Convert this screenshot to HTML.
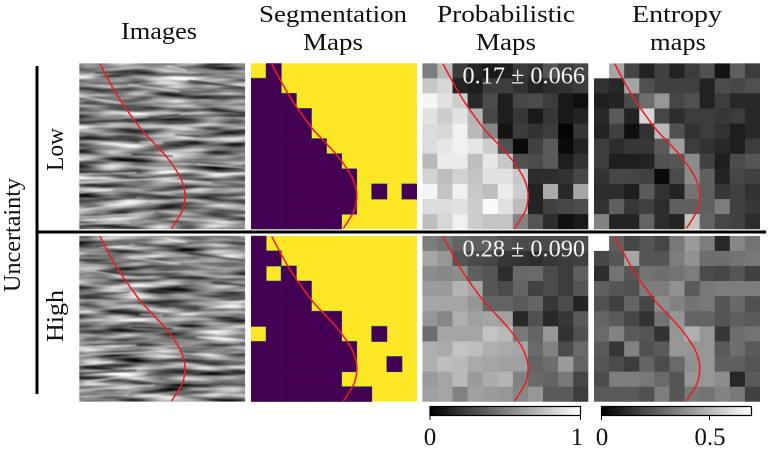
<!DOCTYPE html>
<html lang="en">
<head>
<meta charset="utf-8">
<title>Uncertainty maps</title>
<style>
html,body{margin:0;padding:0;background:#fff;}
svg{display:block;}
text{font-family:"Liberation Serif",serif;fill:#111;}
</style>
</head>
<body>
<svg id="fig" xmlns="http://www.w3.org/2000/svg" width="770" height="449" viewBox="0 0 770 449">
<defs>
<filter id="seis" x="0" y="0" width="100%" height="100%" color-interpolation-filters="sRGB">
<feTurbulence type="fractalNoise" baseFrequency="0.02 0.17" numOctaves="2" seed="7"/>
<feColorMatrix type="matrix" values="1.5 0 0 0 -0.24  1.5 0 0 0 -0.24  1.5 0 0 0 -0.24  0 0 0 0 1"/>
<feGaussianBlur stdDeviation="0.5 0.4"/>
</filter>
<filter id="soft" x="-5%" y="-50%" width="110%" height="200%">
<feGaussianBlur stdDeviation="1.2 0.7"/>
</filter>
<linearGradient id="grayramp"><stop offset="0" stop-color="#000"/><stop offset="1" stop-color="#fff"/></linearGradient>
</defs>

<g>
<text x="121" y="39" font-size="24" textLength="76" lengthAdjust="spacingAndGlyphs">Images</text>
<text x="259" y="22" font-size="24" textLength="148" lengthAdjust="spacingAndGlyphs">Segmentation</text>
<text x="303" y="50" font-size="24" textLength="60" lengthAdjust="spacingAndGlyphs">Maps</text>
<text x="437" y="22" font-size="24" textLength="138" lengthAdjust="spacingAndGlyphs">Probabilistic</text>
<text x="476" y="50" font-size="24" textLength="60" lengthAdjust="spacingAndGlyphs">Maps</text>
<text x="632" y="22" font-size="24" textLength="90" lengthAdjust="spacingAndGlyphs">Entropy</text>
<text x="650" y="50" font-size="24" textLength="56" lengthAdjust="spacingAndGlyphs">maps</text>
</g>

<g id="panels"></g>

<text transform="translate(20,292) rotate(-90)" font-size="24" textLength="114" lengthAdjust="spacingAndGlyphs">Uncertainty</text>
<text transform="translate(63,171) rotate(-90)" font-size="24" textLength="43" lengthAdjust="spacingAndGlyphs">Low</text>
<text transform="translate(63,342) rotate(-90)" font-size="24" textLength="52" lengthAdjust="spacingAndGlyphs">High</text>
<rect x="35.5" y="66" width="3" height="328" fill="#000"/>
<rect x="37" y="230.5" width="729" height="3" fill="#000"/>

<text x="462.5" y="83.5" font-size="24" textLength="122.5" lengthAdjust="spacingAndGlyphs" style="fill:#f4f4f4">0.17 ± 0.066</text>
<text x="462.5" y="256.5" font-size="24" textLength="122.5" lengthAdjust="spacingAndGlyphs" style="fill:#f4f4f4">0.28 ± 0.090</text>

<g>
<rect x="430" y="406.5" width="150.5" height="9" fill="url(#grayramp)" stroke="#000" stroke-width="1.2"/>
<line x1="430" x2="430" y1="415" y2="420" stroke="#000"/>
<line x1="580.5" x2="580.5" y1="415" y2="420" stroke="#000"/>
<text x="430" y="445" font-size="25" text-anchor="middle">0</text>
<text x="577" y="445" font-size="25" text-anchor="middle">1</text>
</g>
<g>
<rect x="601.5" y="406.5" width="150" height="9" fill="url(#grayramp)" stroke="#000" stroke-width="1.2"/>
<line x1="601.5" x2="601.5" y1="415" y2="420" stroke="#000"/>
<line x1="709.5" x2="709.5" y1="415" y2="420" stroke="#000"/>
<text x="602" y="445" font-size="25" text-anchor="middle">0</text>
<text x="710" y="445" font-size="25" text-anchor="middle" textLength="31" lengthAdjust="spacingAndGlyphs">0.5</text>
</g>
</svg>

<script>
// Segmentation class per cell (0 = purple, 1 = yellow)
var segLow = [
[1,0,1,1,1,1,1,1,1,1,1],
[0,0,1,1,1,1,1,1,1,1,1],
[0,0,0,1,1,1,1,1,1,1,1],
[0,0,0,0,1,1,1,1,1,1,1],
[0,0,0,0,1,1,1,1,1,1,1],
[0,0,0,0,0,1,1,1,1,1,1],
[0,0,0,0,0,0,1,1,1,1,1],
[0,0,0,0,0,0,0,1,1,1,1],
[0,0,0,0,0,0,0,1,0,1,0],
[0,0,0,0,0,0,0,1,1,1,1],
[0,0,0,0,0,0,1,1,1,1,1]];
var segHigh = [
[0,1,1,1,1,1,1,1,1,1,1],
[0,0,1,1,1,1,1,1,1,1,1],
[0,1,0,1,1,1,1,1,1,1,1],
[0,0,0,0,1,1,1,1,1,1,1],
[0,0,0,0,1,1,1,1,1,1,1],
[0,0,0,0,0,0,1,1,1,1,1],
[1,0,0,0,0,0,1,1,0,1,1],
[0,0,0,0,0,0,0,1,1,1,1],
[0,0,0,0,0,0,0,1,1,0,1],
[0,0,0,0,0,0,1,1,1,1,1],
[0,0,0,0,0,0,0,0,1,1,1]];
// Probability per cell (gray level 0-255)
var probLow = [
[125,185,60,35,25,30,60,50,85,60,70],
[200,215,35,30,60,60,50,35,45,50,60],
[245,225,205,40,75,30,70,75,60,25,15],
[225,205,225,180,70,30,55,25,55,25,35],
[220,215,240,185,135,20,60,50,60,5,55],
[220,230,240,230,205,80,10,65,90,10,35],
[185,235,235,190,230,200,80,75,90,30,50],
[210,190,210,195,225,225,200,45,45,50,70],
[245,195,240,200,190,235,205,35,170,40,165],
[220,220,225,205,250,225,190,35,65,70,75],
[190,215,240,205,195,195,130,85,45,15,25]];
var probHigh = [
[125,115,100,95,95,80,75,75,75,75,75],
[165,150,85,75,70,55,50,45,55,60,65],
[140,135,140,95,85,45,105,105,75,60,95],
[155,155,180,165,85,75,100,65,75,60,85],
[165,165,165,150,100,100,90,100,55,75,35],
[150,135,175,160,165,160,40,80,40,55,90],
[110,165,165,165,195,185,120,100,150,50,80],
[175,170,195,190,175,170,165,105,130,75,105],
[175,190,185,170,165,160,160,100,110,155,100],
[155,165,185,155,170,180,130,105,100,120,70],
[160,165,130,160,155,150,135,150,90,90,60]];
// Entropy per cell (gray level 0-255)
var entropyLow = [
[255,165,70,35,65,35,60,80,20,95,60],
[50,40,165,80,65,65,65,35,75,70,80],
[30,35,75,110,150,70,80,35,60,40,40],
[40,90,35,215,70,45,60,60,55,60,40],
[35,65,15,50,185,80,50,60,50,30,40],
[60,45,55,55,90,160,60,50,40,30,60],
[60,30,30,35,80,85,140,65,30,75,85],
[50,70,70,65,10,75,140,95,35,70,65],
[45,45,30,90,50,35,115,95,55,65,50],
[50,95,55,65,45,95,95,95,125,65,55],
[130,35,35,100,45,35,195,100,70,65,45]];
var entropyHigh = [
[255,95,70,85,70,120,155,125,40,135,115],
[70,85,165,85,85,125,145,110,110,115,120],
[45,115,85,115,110,115,125,75,70,85,65],
[95,85,80,125,125,145,90,120,125,125,125],
[80,65,100,70,140,130,115,120,85,105,80],
[100,90,70,50,115,150,100,100,85,95,90],
[105,130,90,85,50,150,175,150,55,110,115],
[90,55,130,80,90,150,150,150,90,110,90],
[85,75,60,100,75,105,145,150,95,95,85],
[75,125,125,120,105,85,150,150,140,40,90],
[90,90,90,80,125,85,120,115,130,120,65]];
// Red interface curve: fraction across panel and fraction down panel
var curveLateral = [.125,.165,.215,.265,.315,.375,.446,.516,.576,.616,.637,.627,.596,.556];
var curveDepth = [.004,.08,.17,.25,.32,.40,.476,.552,.632,.703,.783,.873,.934,.995];
// Hand-read reflector streaks: x0,y0,x1,y1 as fractions of panel, and tone
var streakFromX = [.32,.0,.0,.0,.04,.66,.53,.71,.58,.37,.0,.0,.0,.42,.5,.0,.3,.8,.1,.0];
var streakFromY = [.55,.83,.78,.67,.88,.105,.02,.61,.43,.475,.36,.72,.93,.33,.7,.2,.13,.28,.06,.97];
var streakToX = [.56,.34,.2,.34,.4,1,.64,1,.72,.5,.3,.6,.45,.6,.8,.25,.6,1,.3,.3];
var streakToY = [.56,.81,.76,.66,.83,.15,.04,.63,.44,.48,.34,.69,.9,.31,.72,.24,.17,.3,.05,.96];
var streakTone = [0,15,250,245,240,30,250,245,35,245,30,250,230,30,235,240,235,30,30,235];

var NS = 'http://www.w3.org/2000/svg';
var panelSize = 166;
var gridCount = 11;
var columnLeft = {image: 79.2, seg: 251, prob: 422.3, entropy: 594};
var rowTop = {low: 63.2, high: 235.8};
var root = document.getElementById('panels');

function cellX(left, col) { return left + col * panelSize / gridCount; }
function cellY(top, row) { return top + row * panelSize / gridCount; }
function scaleX(left, v) { return left + v * panelSize; }
function scaleY(top, v) { return top + v * panelSize; }

function make(tag, parent, attrs) {
  var el = document.createElementNS(NS, tag);
  for (var k in attrs) el.setAttribute(k, attrs[k]);
  parent.appendChild(el);
  return el;
}

function curvePath(left, top) {
  var pts = curveLateral.map(function (v, i) { return [scaleX(left, v), scaleY(top, curveDepth[i])]; });
  var d = 'M' + pts[0][0] + ' ' + pts[0][1];
  for (var i = 0; i < pts.length - 1; i++) {
    var p0 = pts[Math.max(i - 1, 0)], p1 = pts[i], p2 = pts[i + 1], p3 = pts[Math.min(i + 2, pts.length - 1)];
    d += ' C' + (p1[0] + (p2[0] - p0[0]) / 6) + ' ' + (p1[1] + (p2[1] - p0[1]) / 6) + ' ' +
      (p2[0] - (p3[0] - p1[0]) / 6) + ' ' + (p2[1] - (p3[1] - p1[1]) / 6) + ' ' + p2[0] + ' ' + p2[1];
  }
  return d;
}

function addCurve(group, left, top, name) {
  var curve = make('path', group, {d: curvePath(left, top), fill: 'none', stroke: '#ea1c24', 'stroke-width': 1.5});
  
  
}

function newPanel(left, top, name) {
  var group = make('g', root, {});
  
  
  var clipId = 'clip-' + name;
  var clip = make('clipPath', group, {id: clipId});
  make('rect', clip, {x: left, y: top, width: panelSize, height: panelSize});
  group.setAttribute('clip-path', 'url(#' + clipId + ')');
  return group;
}

function drawHeat(left, top, values, name) {
  var group = newPanel(left, top, name);
  values.forEach(function (rowVals, r) {
    rowVals.forEach(function (v, c) {
      var cell = make('rect', group, {
        x: cellX(left, c), y: cellY(top, r),
        width: panelSize / gridCount + 0.4, height: panelSize / gridCount + 0.4,
        fill: 'rgb(' + v + ',' + v + ',' + v + ')'
      });
      
      
    });
  });
  addCurve(group, left, top, name);
}

function drawSeg(left, top, values, name) {
  var group = newPanel(left, top, name);
  make('rect', group, {x: left, y: top, width: panelSize, height: panelSize, fill: '#fde725'});
  var w = panelSize / gridCount;
  values.forEach(function (rowVals, r) {
    rowVals.forEach(function (v, c) {
      if (v === 0) make('rect', group, {x: cellX(left, c), y: cellY(top, r), width: w, height: w, fill: 'none', stroke: '#2c9a8c', 'stroke-width': 1});
    });
  });
  values.forEach(function (rowVals, r) {
    rowVals.forEach(function (v, c) {
      if (v === 0) {
        var cell = make('rect', group, {x: cellX(left, c), y: cellY(top, r), width: w + 0.2, height: w + 0.2, fill: '#440154'});
        
        
      }
    });
  });
  addCurve(group, left, top, name);
}

function drawImage(left, top, name) {
  var group = newPanel(left, top, name);
  make('rect', group, {x: left, y: top, width: panelSize, height: panelSize, fill: '#888', filter: 'url(#seis)'});
  var streaks = make('g', group, {filter: 'url(#soft)'});
  streakFromX.forEach(function (x0, i) {
    var t = streakTone[i];
    var line = make('line', streaks, {
      x1: scaleX(left, x0), y1: scaleY(top, streakFromY[i]),
      x2: scaleX(left, streakToX[i]), y2: scaleY(top, streakToY[i]),
      stroke: 'rgb(' + t + ',' + t + ',' + t + ')', 'stroke-width': 1.7, 'stroke-linecap': 'round', opacity: 0.65
    });
    
    
  });
  addCurve(group, left, top, name);
}

drawImage(columnLeft.image, rowTop.low, 'image-low');
drawSeg(columnLeft.seg, rowTop.low, segLow, 'segmentation-low');
drawHeat(columnLeft.prob, rowTop.low, probLow, 'probability-low');
drawHeat(columnLeft.entropy, rowTop.low, entropyLow, 'entropy-low');
drawImage(columnLeft.image, rowTop.high, 'image-high');
drawSeg(columnLeft.seg, rowTop.high, segHigh, 'segmentation-high');
drawHeat(columnLeft.prob, rowTop.high, probHigh, 'probability-high');
drawHeat(columnLeft.entropy, rowTop.high, entropyHigh, 'entropy-high');
</script>
</body>
</html>
